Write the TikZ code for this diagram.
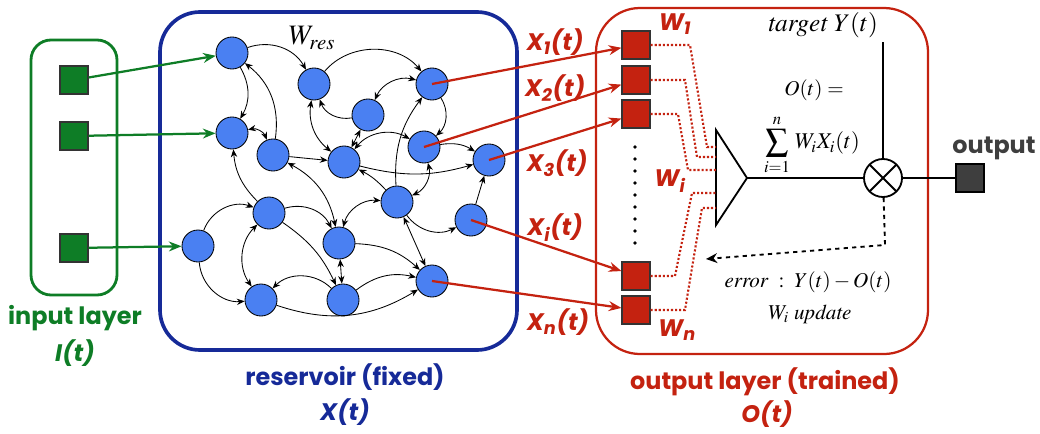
\RequirePackage{fix-cm}
\documentclass[tikz,border=0pt]{standalone}
\usepackage{amsmath, amssymb}
\usepackage{mathptmx}
\usepackage{fontspec}
\setmainfont{Liberation Serif}
\setsansfont{Poppins}
\usetikzlibrary{arrows.meta}

\definecolor{ingreen}{RGB}{14,125,38}
\definecolor{resblue}{RGB}{74,128,242}
\definecolor{boxblue}{RGB}{22,42,152}
\definecolor{outred}{RGB}{196,34,16}
\definecolor{outgrey}{RGB}{62,62,62}

\tikzset{
  neuron/.style={circle, draw, fill=resblue, minimum size=0.8cm, inner sep=0pt, line width=0.6pt},
  link/.style={line width=0.6pt},
  insq/.style={draw=black!80, fill=ingreen, minimum size=0.7cm, inner sep=0pt, line width=0.8pt},
  wsq/.style={draw=black!80, fill=outred, minimum size=0.7cm, inner sep=0pt, line width=0.8pt},
  outsq/.style={draw=black, fill=outgrey, minimum size=0.7cm, inner sep=0pt, line width=0.8pt},
  feed/.style={ingreen, line width=1.6pt, -{Stealth[length=9pt,width=7pt]}},
  readout/.style={outred, line width=1.6pt, -{Stealth[length=9pt,width=7pt]}},
  wire/.style={outred, line width=1.5pt, dash pattern=on 1.5pt off 1.4pt},
  sig/.style={line width=1.3pt},
  mixer/.style={circle, draw, line width=1.3pt, minimum size=0.95cm, inner sep=0pt,
    path picture={\draw[line width=1.3pt]
      (path picture bounding box.north west) -- (path picture bounding box.south east)
      (path picture bounding box.north east) -- (path picture bounding box.south west);}},
  lyr/.style={font=\fontsize{17}{20}\selectfont\sffamily\bfseries},
  lyrit/.style={font=\fontsize{17}{20}\selectfont\sffamily\bfseries\itshape},
  xlbl/.style={outred, font=\fontsize{17}{20}\selectfont\sffamily\bfseries\itshape},
  eq/.style={font=\fontsize{15}{18}\selectfont},
}

\begin{document}
\begin{tikzpicture}[x=0.025cm, y=-0.025cm, >={Stealth[length=5.5pt,width=4.5pt]}]
    \useasboundingbox (0,0) rectangle (1040,434);

    % Layer frames
    \draw[ingreen, line width=2pt, rounded corners=0.5cm] (31,40) rectangle (117,295);
    \draw[boxblue, line width=2.6pt, rounded corners=1cm] (160,12) rectangle (517,350);
    \draw[outred, line width=1.6pt, rounded corners=1.1cm] (596,8) rectangle (928,354);

    % Input units
    \node[insq] (in1) at (74,80)  {};
    \node[insq] (in2) at (74,136) {};
    \node[insq] (in3) at (74,248) {};

    % Reservoir neurons
    \node[neuron] (rA) at (232,53)  {};
    \node[neuron] (rB) at (314,84)  {};
    \node[neuron] (rC) at (432,84)  {};
    \node[neuron] (rD) at (368,115) {};
    \node[neuron] (rE) at (232,133) {};
    \node[neuron] (rF) at (273,155) {};
    \node[neuron] (rG) at (344,162) {};
    \node[neuron] (rH) at (424,147) {};
    \node[neuron] (rI) at (489,160) {};
    \node[neuron] (rM) at (397,202) {};
    \node[neuron] (rJ) at (269,213) {};
    \node[neuron] (rK) at (198,246) {};
    \node[neuron] (rL) at (339,243) {};
    \node[neuron] (rN) at (471,220) {};
    \node[neuron] (rO) at (261,300) {};
    \node[neuron] (rP) at (343,300) {};
    \node[neuron] (rQ) at (432,281) {};
    \node[font=\fontsize{20}{24}\selectfont] (wres) at (312,38) {$W_{res}$};

    % Recurrent links
    \draw[link,->]  (rA) to[bend left=40]  (rB);
    \draw[link,->]  (rA) to[bend left=30]  (rE);
    \draw[link,->]  (rF) to[bend right=30] (rA);
    \draw[link,<->] (rE) to[bend left=40]  (rF);
    \draw[link,->]  (rB) to[bend left=50]  (rC);
    \draw[link,->]  (rD) to[bend left=40]  (rB);
    \draw[link,<->] (rC) to[bend right=40] (rD);
    \draw[link,<->] (rB) to[bend right=30] (rG);
    \draw[link,<->] (rD) -- (rG);
    \draw[link,->]  (rF) -- (rG);
    \draw[link,->]  (rC) to[bend left=40]  (rH);
    \draw[link,<->] (rH) to[bend right=40] (rG);
    \draw[link,->]  (rH) to[bend left=20]  (rI);
    \draw[link,->]  (rG) to[bend right=15] (rI);
    \draw[link,->]  (rM) to[bend left=20]  (rC);
    \draw[link,->]  (rM) to[bend right=10] (rG);
    \draw[link,<->] (rF) to[bend left=25]  (rL);
    \draw[link,->]  (rJ) to[bend left=20]  (rE);
    \draw[link,<->] (rH) to[bend left=40]  (rM);
    \draw[link,->]  (rK) to[bend left=45]  (rJ);
    \draw[link,->]  (rK) to[bend right=45] (rO);
    \draw[link,<->] (rJ) to[bend right=40] (rO);
    \draw[link,->]  (rJ) to[bend left=40]  (rL);
    \draw[link,->]  (rJ) to[bend left=15]  (rP);
    \draw[link,->]  (rP) to[bend right=45] (rO);
    \draw[link,<->] (rL) -- (rP);
    \draw[link,->]  (rL) to[bend left=20]  (rQ);
    \draw[link,->]  (rP) to[bend left=25]  (rQ);
    \draw[link,->]  (rO) to[bend right=25] (rQ);
    \draw[link,<->] (rM) to[bend right=40] (rL);
    \draw[link,<->] (rM) -- (rQ);
    \draw[link,->]  (rM) to[bend right=40] (rN);
    \draw[link,->]  (rN) -- (rI);

    % Input connections
    \draw[feed] (in1) -- (rA);
    \draw[feed] (in2) -- (rE);
    \draw[feed] (in3) -- (rK);

    % Readout weights
    \node[wsq] (w1) at (636,45)  {};
    \node[wsq] (w2) at (636,80)  {};
    \node[wsq] (w3) at (636,114) {};
    \node[wsq] (wi) at (636,276) {};
    \node[wsq] (wn) at (636,310) {};
    \foreach \y in {147,159,...,243}
        \fill (635,\y) circle (1.3pt);

    \draw[readout] (rC.center) -- (w1);
    \draw[readout] (rH.center) -- (w2);
    \draw[readout] (rI.center) -- (w3);
    \draw[readout] (rN.center) -- (wi);
    \draw[readout] (rQ.center) -- (wn);

    \node[xlbl] (lx1) at (555,42)  {X\textsubscript{1}(t)};
    \node[xlbl] (lx2) at (555,88)  {X\textsubscript{2}(t)};
    \node[xlbl] (lx3) at (557,163) {X\textsubscript{3}(t)};
    \node[xlbl] (lxi) at (555,228) {X\textsubscript{i}(t)};
    \node[xlbl] (lxn) at (558,322) {X\textsubscript{n}(t)};
    \node[xlbl] (lw1) at (675,24)  {W\textsubscript{1}};
    \node[xlbl] (lwi) at (670,181) {W\textsubscript{i}};
    \node[xlbl] (lwn) at (677,330) {W\textsubscript{n}};

    % Summing amplifier
    \draw[sig] (716,130) -- (747,178) -- (716,225) -- cycle;
    \coordinate (amptip) at (747,178);
    \coordinate (p1) at (716,147);
    \coordinate (p2) at (716,157);
    \coordinate (p3) at (716,170);
    \coordinate (p4) at (716,193);
    \coordinate (p5) at (716,208);
    \draw[wire] (w1.east) -- (690,45)  -- (707,147) -- (p1);
    \draw[wire] (w2.east) -- (685,80)  -- (697,157) -- (p2);
    \draw[wire] (w3.east) -- (678,114) -- (688,170) -- (p3);
    \draw[wire] (wi.east) -- (675,276) -- (692,193) -- (p4);
    \draw[wire] (wn.east) -- (685,310) -- (702,208) -- (p5);

    % Comparison with target
    \node[mixer] (mix) at (883,178) {};
    \coordinate (tgt) at (883,42);
    \node[outsq] (out) at (970,178) {};
    \draw[sig] (amptip) -- (mix);
    \draw[sig] (tgt) -- (mix);
    \draw[sig] (mix) -- (out);
    \coordinate (errbend) at (885,245);
    \coordinate (errend) at (706,259);
    \draw[sig, dashed, ->, >={Stealth[length=8pt,width=7pt]}] (mix) -- (errbend) -- (errend);

    % Formulas
    \node[font=\fontsize{18}{21}\selectfont] (tgtlbl) at (823,25) {$\mathit{target}\ Y(t)$};
    \node[eq, inner sep=0pt] (eqo) at (814,90) {$O(t)=$};
    \node[font=\fontsize{16}{19}\selectfont, inner sep=0pt] (eqsum) at (812,145) {$\displaystyle\sum_{i=1}^{n}\, W_i X_i(t)$};
    \node[eq] (eqerr) at (808,282) {$\mathit{error}\ :\ Y(t)-O(t)$};
    \node[eq] (equpd) at (810,314) {$W_i\ \mathit{update}$};

    % Layer names
    \node[lyr, ingreen]   (inlbl)   at (75,318)  {input layer};
    \node[lyrit, ingreen] (inlblt)  at (75,353)  {I(t)};
    \node[lyr, boxblue]   (reslbl)  at (345,377) {reservoir (fixed)};
    \node[lyrit, boxblue] (reslblt) at (345,412) {X(t)};
    \node[lyr, outred]    (outlbl)  at (765,382) {output layer (trained)};
    \node[lyrit, outred]  (outlblt) at (767,414) {O(t)};
    \node[lyr, outgrey]   (outtxt)  at (994,148) {output};

\end{tikzpicture}
\end{document}
